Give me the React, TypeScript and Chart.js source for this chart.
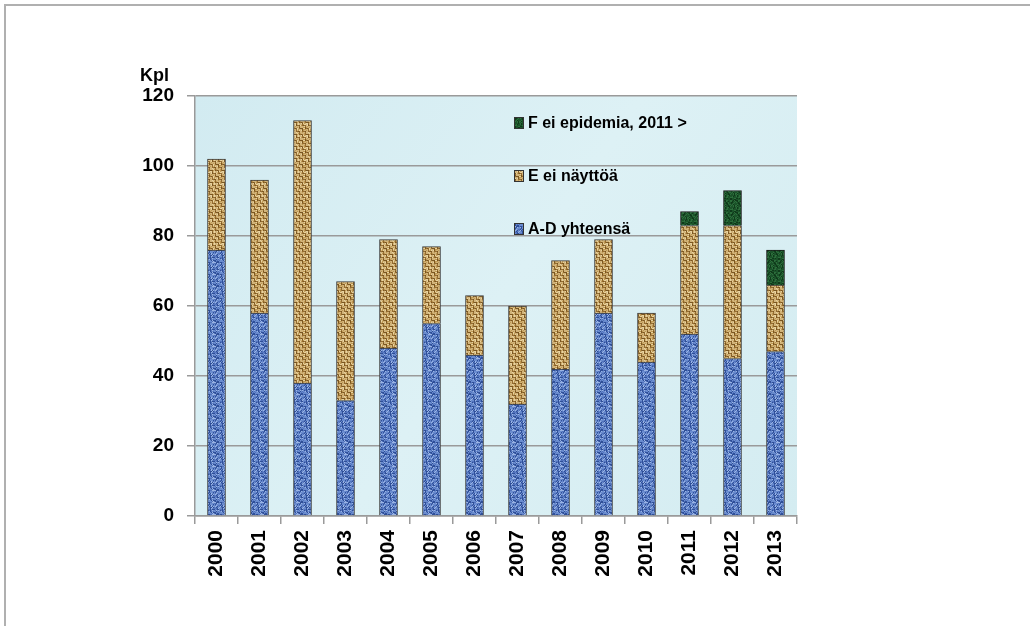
import React, { useEffect, useRef } from "react";
import { Chart, registerables } from "chart.js";
Chart.register(...registerables);

const years = ["2000", "2001", "2002", "2003", "2004", "2005", "2006", "2007", "2008", "2009", "2010", "2011", "2012", "2013"];
const adValues = [76, 58, 38, 33, 48, 55, 46, 32, 42, 58, 44, 52, 45, 47];
const eValues = [26, 38, 75, 34, 31, 22, 17, 28, 31, 21, 14, 31, 38, 19];
const fValues = [null, null, null, null, null, null, null, null, null, null, null, 4, 10, 10];
const seriesLabels = ["A-D yhteensä", "E ei näyttöä", "F ei epidemia, 2011 >"];
const yMin = 0;
const yMax = 120;
const yStep = 20;
const yTitle = "Kpl";

function hash(x: number, y: number, s: number) {
  let h = (x * 374761393 + y * 668265263 + s * 1274126177) | 0;
  h = Math.imul(h ^ (h >>> 13), 1274126177);
  h = h ^ (h >>> 16);
  return ((h >>> 0) % 1000) / 1000;
}

function makePattern(kind: "blue" | "tan" | "green"): CanvasPattern | string {
  const size = 12;
  const c = document.createElement("canvas");
  c.width = size;
  c.height = size;
  const ctx = c.getContext("2d");
  if (!ctx) return "#888";
  for (let y = 0; y < size; y++) {
    for (let x = 0; x < size; x++) {
      const h = hash(x, y, kind.length);
      let col = "";
      if (kind === "blue") {
        col = h < 0.22 ? "#2f4f98" : h < 0.5 ? "#5273bd" : h < 0.82 ? "#6a8ccf" : "#9ab4e4";
      } else if (kind === "tan") {
        const weaveH = (Math.floor(x / 3) + Math.floor(y / 3)) % 2 === 0;
        const line = weaveH ? y % 3 === 2 : x % 3 === 2;
        if (line) col = h < 0.5 ? "#7a5620" : "#946c30";
        else col = h < 0.25 ? "#bf9852" : h < 0.75 ? "#d2b47a" : "#e8d3a0";
      } else {
        col = h < 0.3 ? "#0f3a1a" : h < 0.75 ? "#1b532a" : "#2c6e3b";
      }
      ctx.fillStyle = col;
      ctx.fillRect(x, y, 1, 1);
    }
  }
  const tmp = document.createElement("canvas").getContext("2d");
  const p = tmp ? tmp.createPattern(c, "repeat") : null;
  return p || "#888";
}

export default function App() {
  const ref = useRef<HTMLCanvasElement>(null);
  useEffect(() => {
    if (!ref.current) return;
    const blue = makePattern("blue");
    const tan = makePattern("tan");
    const green = makePattern("green");
    const fills = [blue, tan, green];
    const font = "'Liberation Sans', Arial, sans-serif";

    const bgPlugin = {
      id: "plotBg",
      beforeDraw(chart: any) {
        const { ctx, chartArea: a } = chart;
        ctx.save();
        const g = ctx.createLinearGradient(a.left, a.top, a.right, a.bottom);
        g.addColorStop(0, "#d2ebf1");
        g.addColorStop(0.5, "#ddf1f5");
        g.addColorStop(1, "#d4ecf1");
        ctx.fillStyle = g;
        ctx.fillRect(a.left, a.top, a.right - a.left, a.bottom - a.top);
        ctx.restore();
      },
    };

    const overlayPlugin = {
      id: "overlay",
      afterDraw(chart: any) {
        const { ctx, chartArea: a } = chart;
        ctx.save();
        ctx.fillStyle = "#000";
        ctx.font = `bold 18px ${font}`;
        ctx.textAlign = "left";
        ctx.textBaseline = "middle";
        ctx.fillText(yTitle, a.left - 55, a.top - 20);
        const rows = [2, 1, 0];
        ctx.font = `bold 16px ${font}`;
        rows.forEach((si, i) => {
          const cy = a.top + 27 + i * 53;
          const bx = a.left + 319;
          ctx.fillStyle = fills[si] as any;
          ctx.fillRect(bx, cy - 6, 10, 12);
          ctx.strokeStyle = "#333";
          ctx.lineWidth = 1;
          ctx.strokeRect(bx + 0.5, cy - 5.5, 9, 11);
          ctx.fillStyle = "#000";
          ctx.fillText(seriesLabels[si], bx + 14, cy + 1);
        });
        ctx.restore();
      },
    };

    const chart = new Chart(ref.current, {
      type: "bar",
      data: {
        labels: years,
        datasets: [
          { label: seriesLabels[0], data: adValues, backgroundColor: blue as any, borderColor: "#3a3a3a", borderWidth: 1, barThickness: 18 },
          { label: seriesLabels[1], data: eValues, backgroundColor: tan as any, borderColor: "#3a3a3a", borderWidth: 1, barThickness: 18 },
          { label: seriesLabels[2], data: fValues as any, backgroundColor: green as any, borderColor: "#1a1a1a", borderWidth: 1, barThickness: 18 },
        ],
      },
      options: {
        responsive: false,
        animation: false,
        devicePixelRatio: 1,
        layout: { padding: { top: 96, right: 233, bottom: 0, left: 0 } },
        plugins: { legend: { display: false }, tooltip: { enabled: false } },
        scales: {
          x: {
            stacked: true,
            grid: { display: true, drawOnChartArea: false, drawTicks: true, tickLength: 8, color: "#9a9a9a", lineWidth: 1.5, offset: true },
            border: { display: true, color: "#9a9a9a", width: 1.5 },
            ticks: { color: "#000", font: { family: font, weight: "bold", size: 21 }, minRotation: 90, maxRotation: 90, padding: 6, autoSkip: false },
            afterFit: (s: any) => { s.height = 110; },
          },
          y: {
            stacked: true,
            min: yMin,
            max: yMax,
            grid: { color: "#9a9a9a", lineWidth: 1.5, drawTicks: true, tickLength: 8 },
            border: { display: true, color: "#9a9a9a", width: 1.5 },
            ticks: { stepSize: yStep, color: "#000", font: { family: font, weight: "bold", size: 19 }, padding: 13 },
            afterFit: (s: any) => { s.width = 195; },
          },
        },
      },
      plugins: [bgPlugin, overlayPlugin],
    });
    return () => chart.destroy();
  }, []);

  return (
    <div style={{ position: "fixed", left: 0, top: 0, width: 1030, height: 626, background: "#fff" }}>
      <canvas ref={ref} width={1030} height={626} style={{ position: "absolute", left: 0, top: 0 }} />
      <div style={{ position: "absolute", left: 4, top: 4, width: 1026, height: 622, borderTop: "2px solid #b0b0b0", borderLeft: "2px solid #b0b0b0", pointerEvents: "none" }} />
    </div>
  );
}
